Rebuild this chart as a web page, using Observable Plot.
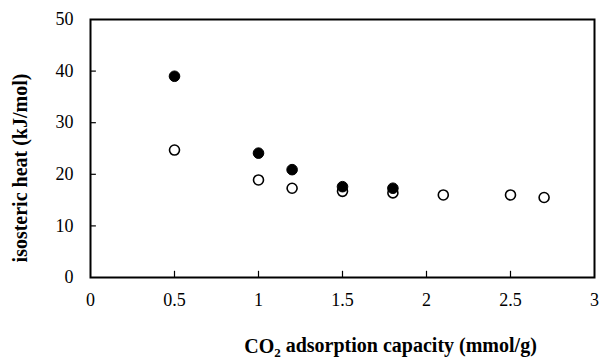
<!DOCTYPE html>
<html>
<head>
<meta charset="utf-8">
<script src="https://cdn.jsdelivr.net/npm/d3@7"></script>
<script src="https://cdn.jsdelivr.net/npm/@observablehq/plot@0.6"></script>
<style>
  html, body { margin: 0; padding: 0; background: white; }
</style>
</head>
<body>
<div id="chart"></div>
<script>
// Filled series
const xFilled = [0.5, 1.0, 1.2, 1.5, 1.8];
const yFilled = [39.0, 24.1, 20.9, 17.6, 17.3];
// Open series
const xOpen = [0.5, 1.0, 1.2, 1.5, 1.8, 2.1, 2.5, 2.7];
const yOpen = [24.7, 18.9, 17.3, 16.7, 16.4, 16.0, 16.0, 15.5];
// Ticks
const xTicks = [0, 0.5, 1, 1.5, 2, 2.5, 3];
const yTicks = [0, 10, 20, 30, 40, 50];
const xInnerTicks = [0.5, 1, 1.5, 2, 2.5];
const yInnerTicks = [10, 20, 30, 40];
const xTitle = "CO2 adsorption capacity (mmol/g)";
const yTitle = "isosteric heat (kJ/mol)";

const filled = xFilled.map((x, i) => ({x, y: yFilled[i]}));
const open = xOpen.map((x, i) => ({x, y: yOpen[i]}));

const chart = Plot.plot({
  width: 599,
  height: 358,
  marginLeft: 90,
  marginRight: 5,
  marginTop: 19,
  marginBottom: 81,
  style: {fontFamily: "'Liberation Serif', 'Times New Roman', serif", fontSize: "18px", background: "white", color: "black", overflow: "visible"},
  x: {domain: [0, 3], ticks: xTicks, tickSize: 0, tickPadding: 16, label: null, tickFormat: d => String(d)},
  y: {domain: [0, 50], ticks: yTicks, tickSize: 0, tickPadding: 17, label: null, tickFormat: d => String(d)},
  marks: [
    Plot.ruleX(xInnerTicks, {x: d => d, y1: 0, y2: 1.2, stroke: "black", strokeWidth: 1.2}),
    Plot.ruleY(yInnerTicks, {y: d => d, x1: 0, x2: 0.035, stroke: "black", strokeWidth: 1.2}),
    Plot.frame({stroke: "black", strokeWidth: 2}),
    Plot.dot(open, {x: "x", y: "y", r: 5, fill: "white", stroke: "black", strokeWidth: 1.6}),
    Plot.dot(filled, {x: "x", y: "y", r: 5.3, fill: "black", stroke: "black", strokeWidth: 1}),
    Plot.text([yTitle], {text: d => d, frameAnchor: "left", textAnchor: "middle", rotate: -90, dx: -69.5, dy: 19.5, fontWeight: "bold", fontSize: 20, lineAnchor: "middle"}),
    Plot.text([xTitle], {text: d => d, frameAnchor: "bottom", textAnchor: "middle", dx: 48, dy: 69.5, fontWeight: "bold", fontSize: 20, lineAnchor: "middle"})
  ]
});

// subscript the 2 in CO2
d3.select(chart).selectAll("text").each(function() {
  const t = d3.select(this);
  if (t.text() === xTitle) {
    t.text(null);
    t.append("tspan").text("CO");
    t.append("tspan").attr("font-size", 13).attr("dy", "0.25em").text("2");
    t.append("tspan").attr("dy", "-0.25em").text(" adsorption capacity (mmol/g)");
  }
});

document.getElementById("chart").appendChild(chart);
</script>
</body>
</html>
